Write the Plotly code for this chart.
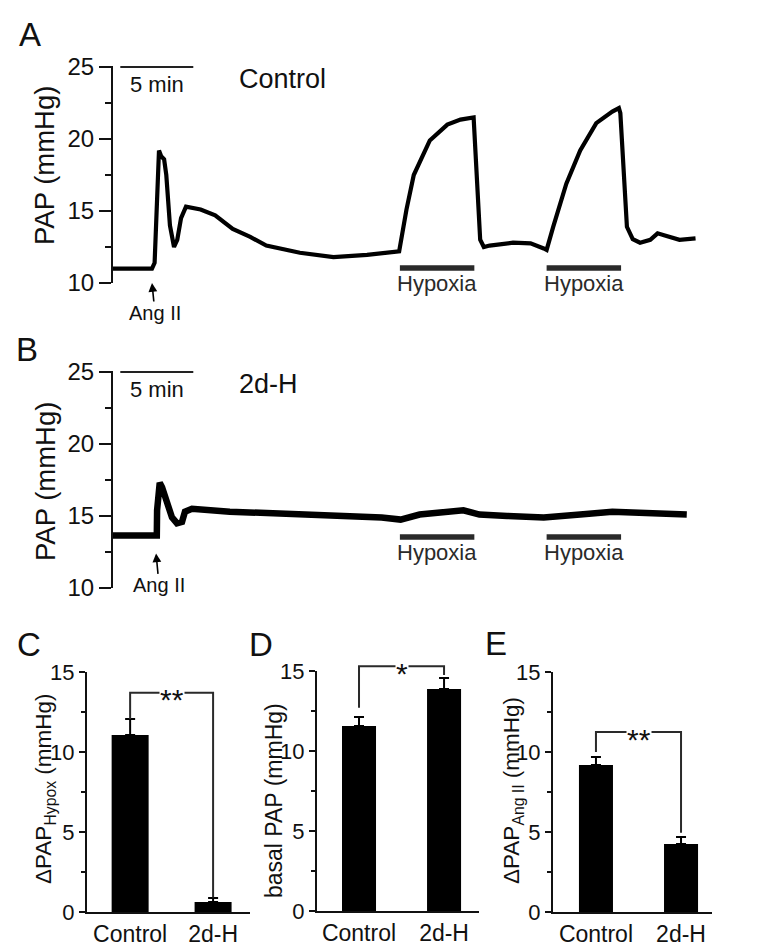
import plotly.graph_objects as go

W, H = 772, 949
FONT = "Liberation Sans, Arial, Helvetica, sans-serif"
INK = "#111111"


def fx(p):
    return p / W


def fy(p):
    return 1 - p / H


# ---------------- data: pressure traces (time in min, PAP in mmHg) ----------------
time_A = [0, 2.67, 2.85, 3.0, 3.15, 3.3, 3.5, 3.65, 3.9, 4.18, 4.4, 4.66, 5.0, 6.0, 7.0,
          8.2, 9.4, 10.5, 12.8, 15.1, 17.4, 19.6, 20.1, 20.6, 21.7, 22.9, 23.8, 24.7,
          24.95, 25.15, 25.4, 25.8, 27.4, 28.6, 29.5, 29.7, 30.15, 31.05, 32.0, 33.1,
          34.2, 34.65, 34.75, 35.2, 35.6, 36.1, 36.8, 37.3, 37.8, 38.8, 39.9]
pap_A = [11.0, 11.0, 11.4, 15.5, 19.2, 18.8, 18.6, 17.5, 14.0, 12.5, 13.0, 14.5, 15.3, 15.1,
         14.7, 13.75, 13.2, 12.6, 12.1, 11.8, 11.95, 12.2, 15.1, 17.5, 19.9, 21.0, 21.35, 21.5,
         16.5, 13.0, 12.5, 12.6, 12.8, 12.75, 12.4, 12.3, 13.9, 16.9, 19.2, 21.1,
         21.9, 22.15, 21.8, 13.9, 13.05, 12.8, 13.0, 13.45, 13.3, 13.0, 13.1]

time_B = [0, 3.0, 3.02, 3.2, 3.36, 3.7, 4.04, 4.38, 4.73, 4.93, 5.41, 8.0, 12.8, 16.0,
          18.4, 19.7, 21.0, 24.0, 25.1, 27.0, 29.5, 32.0, 34.2, 36.5, 39.3]
pap_B = [13.65, 13.65, 15.4, 17.3, 17.0, 16.1, 14.9, 14.5, 14.6, 15.3, 15.5, 15.3, 15.15, 15.0,
         14.9, 14.75, 15.1, 15.4, 15.1, 15.0, 14.9, 15.1, 15.3, 15.2, 15.1]

hypoxia_start = [19.65, 29.7]
hypoxia_len = 5.1
hypoxia_level = [11.05, 13.55]          # A, B
angII_time = [2.67, 2.95]               # A, B
angII_tip = [10.0, 12.4]                # A, B
scale_start = 0.5
scale_len = 5.0
scale_level = 25.0
trace_titles = ["Control", "2d-H"]

# ---------------- data: summary bars ----------------
groups = ["Control", "2d-H"]
hypox_mean = [11.06, 0.63]
hypox_sem = [1.0, 0.25]
basal_mean = [11.56, 13.88]
basal_sem = [0.56, 0.69]
angII_mean = [9.19, 4.25]
angII_sem = [0.5, 0.44]
# significance brackets: [left end, top, right end]
bracket_C = [12.06, 13.7, 0.9]
bracket_D = [12.7, 15.3, 14.75]
bracket_E = [10.0, 11.25, 4.95]
sig_labels = ["**", "*", "**"]

fig = go.Figure()

# ---------------- traces A & B ----------------
for i, (tx, ty, xa, ya, lw) in enumerate([(time_A, pap_A, "x", "y", 4.2),
                                          (time_B, pap_B, "x2", "y2", 6.5)]):
    fig.add_trace(go.Scatter(x=tx, y=ty, xaxis=xa, yaxis=ya, mode="lines",
                             line=dict(color="black", width=lw), hoverinfo="skip"))
    for s in hypoxia_start:
        fig.add_trace(go.Scatter(x=[s, s + hypoxia_len], y=[hypoxia_level[i]] * 2,
                                 xaxis=xa, yaxis=ya, mode="lines",
                                 line=dict(color="#2a2a2a", width=5.5), hoverinfo="skip"))
    fig.add_trace(go.Scatter(x=[scale_start, scale_start + scale_len], y=[scale_level] * 2,
                             xaxis=xa, yaxis=ya, mode="lines",
                             line=dict(color="#222", width=2.2), hoverinfo="skip"))

# ---------------- bars C, D, E ----------------
panels = [
    ("x3", "y3", "y6", hypox_mean, hypox_sem, bracket_C, 0.446),
    ("x4", "y4", "y7", basal_mean, basal_sem, bracket_D, 0.40),
    ("x5", "y5", "y8", angII_mean, angII_sem, bracket_E, 0.40),
]
for xa, ya, yb, m, e, br, bw in panels:
    fig.add_trace(go.Bar(x=groups, y=m, width=bw, xaxis=xa, yaxis=ya,
                         marker=dict(color="black", line=dict(width=0)),
                         error_y=dict(type="data", symmetric=False, array=e,
                                      arrayminus=[0, 0], color="black",
                                      thickness=2, width=5),
                         hoverinfo="skip"))
    fig.add_trace(go.Scatter(x=[groups[0], groups[0], groups[1], groups[1]],
                             y=[br[0], br[1], br[1], br[2]], xaxis=xa, yaxis=yb,
                             mode="lines", line=dict(color="#2a2a2a", width=2),
                             hoverinfo="skip"))

# ---------------- axes ----------------
tick_font = dict(family=FONT, size=24, color=INK)
trace_y = dict(range=[10, 25.1], tickvals=[10, 15, 20, 25], ticks="outside", ticklen=12,
               tickwidth=2, tickcolor=INK, showline=True, linewidth=2, linecolor=INK,
               showgrid=False, zeroline=False, tickfont=tick_font, automargin=False,
               minor=dict(tickvals=[12.5, 17.5, 22.5], ticks="outside", ticklen=6,
                          tickwidth=2, tickcolor=INK, showgrid=False))
x_time = dict(range=[0, 40], visible=False, domain=[fx(113), fx(697)], automargin=False)

bar_y = dict(range=[0, 15], tickvals=[0, 5, 10, 15], ticks="outside", ticklen=6, tickwidth=2,
             tickcolor=INK, showline=True, linewidth=2, linecolor=INK, showgrid=False,
             zeroline=False, tickfont=dict(family=FONT, size=22, color=INK), automargin=False,
             minor=dict(tickvals=[2.5, 7.5, 12.5], ticks="outside", ticklen=4, tickwidth=2,
                        tickcolor=INK, showgrid=False))
bar_x = dict(type="category", showline=True, linewidth=2, linecolor=INK, ticks="",
             showgrid=False, zeroline=False, automargin=False,
             tickfont=dict(family=FONT, size=23, color=INK))
hidden_y = dict(range=[0, 16.5], visible=False, automargin=False)

top_extra = 0.1 * 14.4
fig.update_layout(
    template="none",
    xaxis=dict(**x_time, anchor="y"),
    yaxis=dict(**trace_y, domain=[fy(283), fy(67 - top_extra)], anchor="x"),
    xaxis2=dict(**x_time, anchor="y2"),
    yaxis2=dict(**trace_y, domain=[fy(588), fy(372 - top_extra)], anchor="x2"),
    xaxis3=dict(**bar_x, domain=[fx(87), fx(250)], range=[-0.52, 1.445], anchor="y3"),
    yaxis3=dict(**bar_y, domain=[fy(912), fy(672)], anchor="x3"),
    xaxis4=dict(**bar_x, domain=[fx(317), fx(479)], range=[-0.494, 1.411], anchor="y4"),
    yaxis4=dict(**bar_y, domain=[fy(911), fy(671)], anchor="x4"),
    xaxis5=dict(**bar_x, domain=[fx(553), fx(712)], range=[-0.505, 1.364], anchor="y5"),
    yaxis5=dict(**bar_y, domain=[fy(912), fy(672)], anchor="x5"),
    yaxis6=dict(**hidden_y, domain=[fy(912), fy(912 - 16.5 * 16)], anchor="x3"),
    yaxis7=dict(**hidden_y, domain=[fy(911), fy(911 - 16.5 * 16)], anchor="x4"),
    yaxis8=dict(**hidden_y, domain=[fy(912), fy(912 - 16.5 * 16)], anchor="x5"),
)

# ---------------- annotations ----------------
ann = []


def text(t, x, y, size, xref="paper", yref="paper", **kw):
    d = dict(text=t, x=x, y=y, xref=xref, yref=yref, showarrow=False,
             font=dict(family=FONT, size=size, color=kw.pop("color", INK)))
    d.update(kw)
    ann.append(d)


# panel letters
for letter, cx, cy in [("A", 30, 35), ("B", 27, 350), ("C", 29, 644), ("D", 261, 644), ("E", 496, 643)]:
    text(letter, fx(cx), fy(cy), 33, xanchor="center", yanchor="middle")

# y titles
text("PAP (mmHg)", fx(45), fy(166), 27.5, textangle=-90, xanchor="center", yanchor="middle")
text("PAP (mmHg)", fx(45), fy(482), 27.5, textangle=-90, xanchor="center", yanchor="middle")
text("ΔPAP<sub>Hypox</sub> (mmHg)", fx(45), fy(789), 22.5, textangle=-90,
     xanchor="center", yanchor="middle")
text("basal PAP (mmHg)", fx(274), fy(801), 23, textangle=-90, xanchor="center", yanchor="middle")
text("ΔPAP<sub>Ang II</sub> (mmHg)", fx(513), fy(791), 22.5, textangle=-90,
     xanchor="center", yanchor="middle")

arrow_ay = [30, 32]
for i, (xa, ya) in enumerate([("x", "y"), ("x2", "y2")]):
    # scale bar label
    text("5 min", scale_start + scale_len / 2, scale_level, 22, xref=xa, yref=ya,
         xanchor="center", yanchor="top", yshift=-3)
    # condition title
    text(trace_titles[i], 8.5, 24.15, 27, xref=xa, yref=ya, xanchor="left", yanchor="middle")
    # hypoxia labels
    for s in hypoxia_start:
        text("Hypoxia", s + hypoxia_len / 2, hypoxia_level[i], 22, xref=xa, yref=ya,
             xanchor="center", yanchor="top", yshift=-1, color="#2a2a2a")
    # Ang II arrow with its label
    ann.append(dict(text="Ang II", x=angII_time[i], y=angII_tip[i], xref=xa, yref=ya,
                    showarrow=True, ax=3, ay=arrow_ay[i], arrowhead=2, arrowsize=1.1,
                    arrowwidth=1.6, arrowcolor="black", standoff=0, borderpad=0,
                    font=dict(family=FONT, size=20, color=INK)))

# significance stars
for (xa, ya, yb, m, e, br, bw), s in zip(panels, sig_labels):
    text(s, 0.5, br[1], 30, xref=xa, yref=yb, xanchor="center", yanchor="middle",
         bgcolor="white", yshift=-7, borderpad=0)

fig.update_layout(
    annotations=ann,
    width=W, height=H,
    margin=dict(l=0, r=0, t=0, b=0, pad=0),
    paper_bgcolor="white", plot_bgcolor="rgba(0,0,0,0)",
    showlegend=False,
    font=dict(family=FONT, color=INK),
)

fig.write_html("out.html", config={"displayModeBar": False},
               post_script="document.body.style.margin='0px';")
